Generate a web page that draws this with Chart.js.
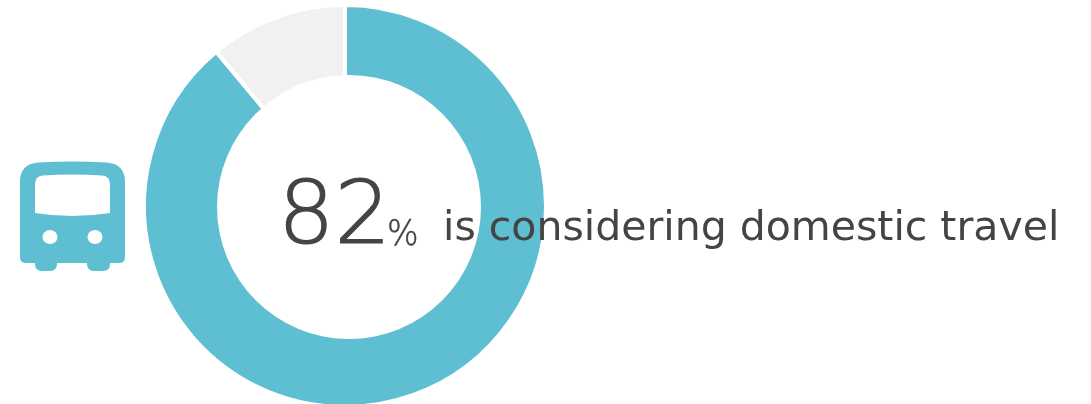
<!DOCTYPE html>
<html>
<head>
<meta charset="utf-8">
<title>Domestic travel</title>
<script src="https://cdn.jsdelivr.net/npm/chart.js@4"></script>
<style>
  html, body { margin: 0; padding: 0; background: #fff; }
  body { width: 1091px; height: 404px; overflow: hidden; position: relative; }
  #wrap { position: absolute; left: 0; top: 0; width: 1091px; height: 412px; }
  #bus { position: absolute; left: 0; top: 140px; }
  .txt { position: absolute; font-family: "DejaVu Sans", sans-serif; color: #444; white-space: nowrap; line-height: 1; transform-origin: 0 0; }
</style>
</head>
<body>
<div id="wrap"><canvas id="ring" width="1091" height="412"></canvas></div>
<svg id="bus" width="150" height="150" viewBox="0 0 150 150">
  <path fill-rule="evenodd" fill="#5fbfd2" d="M38 22.5 Q72 20.5 107 22.5 Q125 24 125 42 V117 Q125 123 119 123 H110 V124 Q110 131 103 131 H94 Q87 131 87 124 V123 H57 V124 Q57 131 50 131 H42 Q35 131 35 124 V123 H26 Q20 123 20 117 V42 Q20 24 38 22.5 Z
    M43 35.5 Q35 36 35 44 V73 Q72 79 110 73 V44 Q110 36 102 35.5 Q72 33.5 43 35.5 Z
    M42.5 97 a7.5 7 0 1 0 15 0 a7.5 7 0 1 0 -15 0 Z
    M87.5 97 a7.5 7 0 1 0 15 0 a7.5 7 0 1 0 -15 0 Z"/>
</svg>
<div class="txt" id="big" style="left:278px;top:169px;font-size:88px;font-weight:200;transform:scaleX(1.01);-webkit-text-stroke:1.2px #444;">82</div>
<div class="txt" id="pct" style="left:387px;top:216px;font-size:35px;font-weight:200;transform:scaleX(.95);-webkit-text-stroke:.5px #444;">%</div>
<div class="txt" id="line" style="left:443px;top:206px;font-size:41px;">is considering domestic travel</div>
<script>
const labels = ["Considering", "Other"];
const shares = [82, 10.2];
const colors = ["#5fbfd2", "#f1f1f1"];

// the hole sits slightly right of the ring's centre, so it is painted over a narrow cutout
const offsetHole = {
  id: "offsetHole",
  afterDatasetsDraw(chart) {
    const arc = chart.getDatasetMeta(0).data[0];
    const ctx = chart.ctx;
    ctx.save();
    ctx.fillStyle = "#fff";
    ctx.beginPath();
    ctx.arc(arc.x + 4, arc.y + 1, 132, 0, Math.PI * 2);
    ctx.fill();
    ctx.restore();
  }
};

new Chart(document.getElementById("ring"), {
  type: "doughnut",
  data: {
    labels: labels,
    datasets: [{
      data: shares,
      backgroundColor: colors,
      borderColor: "#fff",
      borderWidth: 4
    }]
  },
  options: {
    responsive: false,
    animation: false,
    cutout: "55%",
    layout: { padding: { left: 142, right: 543, top: 3, bottom: 3 } },
    plugins: { legend: { display: false }, tooltip: { enabled: false } }
  },
  plugins: [offsetHole]
});
</script>
</body>
</html>
